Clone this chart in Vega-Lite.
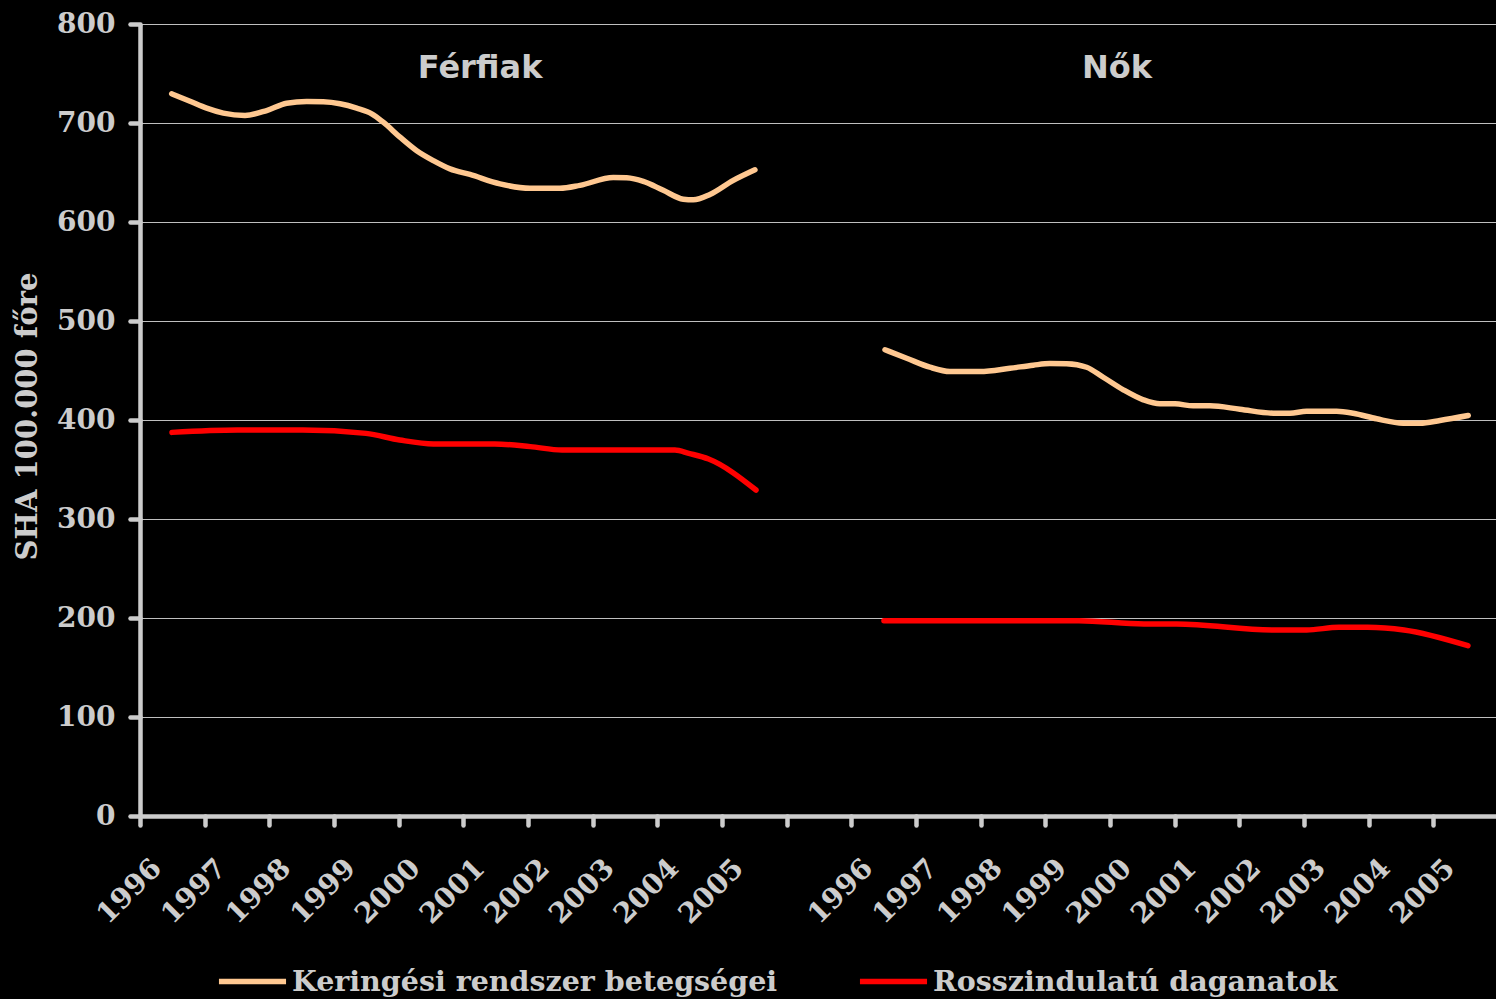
{
  "$schema": "https://vega.github.io/schema/vega-lite/v6.json",
  "width": 1356,
  "height": 792,
  "autosize": "none",
  "padding": {"left": 140, "top": 24, "right": 0, "bottom": 183},
  "background": "#000000",
  "config": {"view": {"stroke": null}},
  "layer": [
    {
      "data": {
        "values": [
          {"panel": "Férfiak", "series": "Keringési rendszer betegségei", "x": 0.49, "v": 729.5},
          {"panel": "Férfiak", "series": "Keringési rendszer betegségei", "x": 0.773, "v": 722},
          {"panel": "Férfiak", "series": "Keringési rendszer betegségei", "x": 1.031, "v": 715},
          {"panel": "Férfiak", "series": "Keringési rendszer betegségei", "x": 1.288, "v": 710},
          {"panel": "Férfiak", "series": "Keringési rendszer betegségei", "x": 1.624, "v": 707.6},
          {"panel": "Férfiak", "series": "Keringési rendszer betegségei", "x": 1.959, "v": 712.6},
          {"panel": "Férfiak", "series": "Keringési rendszer betegségei", "x": 2.268, "v": 720},
          {"panel": "Férfiak", "series": "Keringési rendszer betegségei", "x": 2.578, "v": 721.7},
          {"panel": "Férfiak", "series": "Keringési rendszer betegségei", "x": 2.835, "v": 721.4},
          {"panel": "Férfiak", "series": "Keringési rendszer betegségei", "x": 3.093, "v": 719.4},
          {"panel": "Férfiak", "series": "Keringési rendszer betegségei", "x": 3.351, "v": 715},
          {"panel": "Férfiak", "series": "Keringési rendszer betegségei", "x": 3.583, "v": 709.3},
          {"panel": "Férfiak", "series": "Keringési rendszer betegségei", "x": 3.762, "v": 700.8},
          {"panel": "Férfiak", "series": "Keringési rendszer betegségei", "x": 4.021, "v": 685.7},
          {"panel": "Férfiak", "series": "Keringési rendszer betegségei", "x": 4.279, "v": 672},
          {"panel": "Férfiak", "series": "Keringési rendszer betegségei", "x": 4.536, "v": 662},
          {"panel": "Férfiak", "series": "Keringési rendszer betegségei", "x": 4.794, "v": 653.7},
          {"panel": "Férfiak", "series": "Keringési rendszer betegségei", "x": 5.103, "v": 648},
          {"panel": "Férfiak", "series": "Keringési rendszer betegségei", "x": 5.567, "v": 638.5},
          {"panel": "Férfiak", "series": "Keringési rendszer betegségei", "x": 6.031, "v": 634},
          {"panel": "Férfiak", "series": "Keringési rendszer betegségei", "x": 6.495, "v": 634},
          {"panel": "Férfiak", "series": "Keringési rendszer betegségei", "x": 6.804, "v": 637},
          {"panel": "Férfiak", "series": "Keringési rendszer betegségei", "x": 7.319, "v": 645},
          {"panel": "Férfiak", "series": "Keringési rendszer betegségei", "x": 7.526, "v": 644.6},
          {"panel": "Férfiak", "series": "Keringési rendszer betegségei", "x": 7.783, "v": 641},
          {"panel": "Férfiak", "series": "Keringési rendszer betegségei", "x": 8.092, "v": 632},
          {"panel": "Férfiak", "series": "Keringési rendszer betegségei", "x": 8.402, "v": 623},
          {"panel": "Férfiak", "series": "Keringési rendszer betegségei", "x": 8.557, "v": 622.4},
          {"panel": "Férfiak", "series": "Keringési rendszer betegségei", "x": 8.814, "v": 627.8},
          {"panel": "Férfiak", "series": "Keringési rendszer betegségei", "x": 9.175, "v": 642},
          {"panel": "Férfiak", "series": "Keringési rendszer betegségei", "x": 9.51, "v": 652.7},
          {"panel": "Férfiak", "series": "Rosszindulatú daganatok", "x": 0.495, "v": 387.5},
          {"panel": "Férfiak", "series": "Rosszindulatú daganatok", "x": 1.505, "v": 389.9},
          {"panel": "Férfiak", "series": "Rosszindulatú daganatok", "x": 2.516, "v": 389.9},
          {"panel": "Férfiak", "series": "Rosszindulatú daganatok", "x": 3.495, "v": 386.5},
          {"panel": "Férfiak", "series": "Rosszindulatú daganatok", "x": 4.016, "v": 379.8},
          {"panel": "Férfiak", "series": "Rosszindulatú daganatok", "x": 4.537, "v": 375.8},
          {"panel": "Férfiak", "series": "Rosszindulatú daganatok", "x": 5.485, "v": 375.8},
          {"panel": "Férfiak", "series": "Rosszindulatú daganatok", "x": 6.037, "v": 373.1},
          {"panel": "Férfiak", "series": "Rosszindulatú daganatok", "x": 6.526, "v": 369.7},
          {"panel": "Férfiak", "series": "Rosszindulatú daganatok", "x": 8.272, "v": 369.7},
          {"panel": "Férfiak", "series": "Rosszindulatú daganatok", "x": 8.487, "v": 366.3},
          {"panel": "Férfiak", "series": "Rosszindulatú daganatok", "x": 8.793, "v": 360.6},
          {"panel": "Férfiak", "series": "Rosszindulatú daganatok", "x": 9.526, "v": 329.3},
          {"panel": "Nők", "series": "Keringési rendszer betegségei", "x": 11.521, "v": 470.9},
          {"panel": "Nők", "series": "Keringési rendszer betegségei", "x": 11.856, "v": 462.4},
          {"panel": "Nők", "series": "Keringési rendszer betegségei", "x": 12.216, "v": 453.3},
          {"panel": "Nők", "series": "Keringési rendszer betegségei", "x": 12.526, "v": 449},
          {"panel": "Nők", "series": "Keringési rendszer betegségei", "x": 12.99, "v": 449},
          {"panel": "Nők", "series": "Keringési rendszer betegségei", "x": 13.454, "v": 452.3},
          {"panel": "Nők", "series": "Keringési rendszer betegségei", "x": 13.814, "v": 455.4},
          {"panel": "Nők", "series": "Keringési rendszer betegségei", "x": 14.072, "v": 457},
          {"panel": "Nők", "series": "Keringési rendszer betegségei", "x": 14.33, "v": 456.8},
          {"panel": "Nők", "series": "Keringési rendszer betegségei", "x": 14.639, "v": 453.3},
          {"panel": "Nők", "series": "Keringési rendszer betegségei", "x": 14.896, "v": 443.2},
          {"panel": "Nők", "series": "Keringési rendszer betegségei", "x": 15.206, "v": 430.5},
          {"panel": "Nők", "series": "Keringési rendszer betegségei", "x": 15.515, "v": 420.4},
          {"panel": "Nők", "series": "Keringési rendszer betegségei", "x": 15.773, "v": 416.3},
          {"panel": "Nők", "series": "Keringési rendszer betegségei", "x": 16.005, "v": 416.3},
          {"panel": "Nők", "series": "Keringési rendszer betegségei", "x": 16.288, "v": 414.3},
          {"panel": "Nők", "series": "Keringési rendszer betegségei", "x": 16.546, "v": 414.3},
          {"panel": "Nők", "series": "Keringési rendszer betegségei", "x": 17.01, "v": 410.9},
          {"panel": "Nők", "series": "Keringési rendszer betegségei", "x": 17.525, "v": 406.9},
          {"panel": "Nők", "series": "Keringési rendszer betegségei", "x": 17.783, "v": 406.9},
          {"panel": "Nők", "series": "Keringési rendszer betegségei", "x": 18.041, "v": 408.9},
          {"panel": "Nők", "series": "Keringési rendszer betegségei", "x": 18.505, "v": 408.9},
          {"panel": "Nők", "series": "Keringési rendszer betegségei", "x": 18.762, "v": 406.9},
          {"panel": "Nők", "series": "Keringési rendszer betegségei", "x": 19.124, "v": 401.2},
          {"panel": "Nők", "series": "Keringési rendszer betegségei", "x": 19.535, "v": 396.8},
          {"panel": "Nők", "series": "Keringési rendszer betegségei", "x": 19.794, "v": 396.8},
          {"panel": "Nők", "series": "Keringési rendszer betegségei", "x": 20.103, "v": 399.5},
          {"panel": "Nők", "series": "Keringési rendszer betegségei", "x": 20.541, "v": 404.5},
          {"panel": "Nők", "series": "Rosszindulatú daganatok", "x": 11.505, "v": 197.3},
          {"panel": "Nők", "series": "Rosszindulatú daganatok", "x": 14.52, "v": 197.3},
          {"panel": "Nők", "series": "Rosszindulatú daganatok", "x": 15.526, "v": 193.9},
          {"panel": "Nők", "series": "Rosszindulatú daganatok", "x": 16.03, "v": 193.9},
          {"panel": "Nők", "series": "Rosszindulatú daganatok", "x": 17.536, "v": 187.9},
          {"panel": "Nők", "series": "Rosszindulatú daganatok", "x": 18.041, "v": 187.9},
          {"panel": "Nők", "series": "Rosszindulatú daganatok", "x": 18.541, "v": 190.6},
          {"panel": "Nők", "series": "Rosszindulatú daganatok", "x": 18.983, "v": 190.6},
          {"panel": "Nők", "series": "Rosszindulatú daganatok", "x": 19.546, "v": 187.9},
          {"panel": "Nők", "series": "Rosszindulatú daganatok", "x": 20.536, "v": 172}
        ]
      },
      "mark": {"type": "line", "strokeWidth": 5.5, "strokeCap": "round", "strokeJoin": "round", "interpolate": "monotone"},
      "encoding": {
        "x": {
          "field": "x",
          "type": "quantitative",
          "scale": {"domain": [0, 20.97], "nice": false, "zero": false},
          "axis": {
            "values": [0, 1, 2, 3, 4, 5, 6, 7, 8, 9, 10, 11, 12, 13, 14, 15, 16, 17, 18, 19, 20],
            "title": null,
            "grid": false,
            "domainColor": "#cccccc",
            "domainWidth": 4.5,
            "tickColor": "#cccccc",
            "tickWidth": 4.5,
            "tickSize": 9,
            "tickCap": "round",
            "labelExpr": "datum.value < 10 ? '' + (1996 + datum.value) : (datum.value == 10 ? '' : '' + (1985 + datum.value))",
            "labelAngle": -45,
            "labelAlign": "right",
            "labelBaseline": "top",
            "labelOffset": 7,
            "labelPadding": 29,
            "labelFont": "DejaVu Serif",
            "labelFontWeight": "bold",
            "labelFontSize": 28,
            "labelColor": "#cccccc",
            "labelFlush": false,
            "labelOverlap": false,
            "labelBound": false
          }
        },
        "y": {
          "field": "v",
          "type": "quantitative",
          "scale": {"domain": [0, 800], "nice": false},
          "axis": {
            "values": [0, 100, 200, 300, 400, 500, 600, 700, 800],
            "title": "SHA 100.000 főre",
            "grid": true,
            "gridColor": "#bfbfbf",
            "gridWidth": 1.2,
            "domainColor": "#cccccc",
            "domainWidth": 4.5,
            "tickColor": "#cccccc",
            "tickWidth": 4.5,
            "tickSize": 10,
            "tickCap": "round",
            "labelPadding": 15,
            "labelFont": "DejaVu Serif",
            "labelFontWeight": "bold",
            "labelFontSize": 28,
            "labelColor": "#cccccc",
            "titleFont": "DejaVu Serif",
            "titleFontWeight": "bold",
            "titleFontSize": 29,
            "titleColor": "#cccccc",
            "titleAngle": 270,
            "titleX": -113,
            "titleY": 392,
            "titleAlign": "center",
            "titleBaseline": "middle"
          }
        },
        "color": {
          "field": "series",
          "type": "nominal",
          "scale": {"domain": ["Keringési rendszer betegségei", "Rosszindulatú daganatok"], "range": ["#FFC891", "#FF0000"]},
          "legend": {
            "title": null,
            "orient": "none",
            "legendX": 76,
            "legendY": 921,
            "direction": "horizontal",
            "symbolType": "stroke",
            "symbolSize": 4500,
            "symbolStrokeWidth": 5.5,
            "labelFont": "DejaVu Serif",
            "labelFontWeight": "bold",
            "labelFontSize": 28.5,
            "labelColor": "#cccccc",
            "labelOffset": 3,
            "labelLimit": 800,
            "columnPadding": 70,
            "padding": 0
          }
        },
        "detail": {"field": "panel"}
      }
    },
    {
      "data": {"values": [{}]},
      "mark": {"type": "text", "font": "DejaVu Sans", "fontWeight": "bold", "fontSize": 32, "color": "#cccccc", "align": "center", "baseline": "alphabetic"},
      "encoding": {
        "x": {"datum": 5.26, "type": "quantitative"},
        "y": {"datum": 745, "type": "quantitative"},
        "text": {"value": "Férfiak"}
      }
    },
    {
      "data": {"values": [{}]},
      "mark": {"type": "text", "font": "DejaVu Sans", "fontWeight": "bold", "fontSize": 32, "color": "#cccccc", "align": "center", "baseline": "alphabetic"},
      "encoding": {
        "x": {"datum": 15.11, "type": "quantitative"},
        "y": {"datum": 745, "type": "quantitative"},
        "text": {"value": "Nők"}
      }
    }
  ]
}
